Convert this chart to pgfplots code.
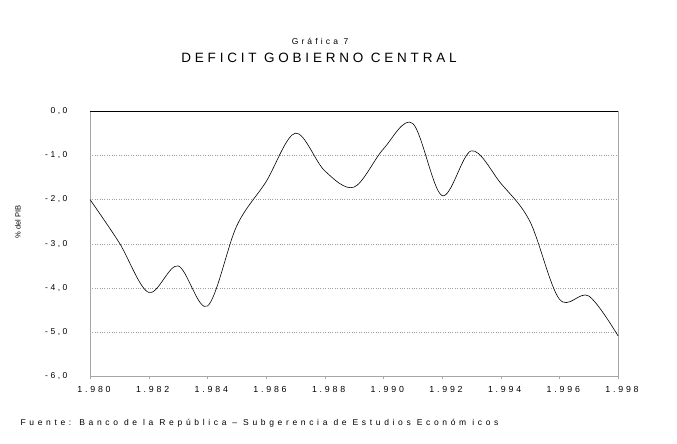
\documentclass[border=0pt]{standalone}
\usepackage{pgfplots}
\pgfplotsset{compat=1.18}
\usepackage{fontspec}
\setmainfont{Liberation Sans}
\newfontfamily\xtickfont[LetterSpace=32]{Liberation Sans}
\newfontfamily\ytickfont[LetterSpace=30]{Liberation Sans}
\newfontfamily\footfont[LetterSpace=43]{Liberation Sans}
\newfontfamily\titlefont[LetterSpace=28]{Liberation Sans}
\newfontfamily\subfont[LetterSpace=37]{Liberation Sans}
\begin{document}
\begin{tikzpicture}
\path (0pt,0pt) rectangle (677pt,444pt);
\begin{axis}[
  at={(90pt,67.5pt)}, anchor=south west,
  scale only axis, width=528pt, height=265.5pt,
  xmin=1980, xmax=1998, ymin=-6, ymax=0,
  xtick={1980,1982,...,1998},
  xticklabels={1.980,1.982,1.984,1.986,1.988,1.990,1.992,1.994,1.996,1.998},
  ytick={-6,-5,-4,-3,-2,-1,0},
  yticklabels={{-6,0},{-5,0},{-4,0},{-3,0},{-2,0},{-1,0},{0,0}},
  xticklabel style={font=\xtickfont\fontsize{8.8}{10}\selectfont, xshift=4pt, yshift=-3pt},
  yticklabel style={font=\ytickfont\fontsize{8.5}{10}\selectfont, xshift=-16pt},
  ymajorgrids, major grid style={gray!75, dotted, line width=0.5pt},
  axis line style={gray!70},
  tick style={gray!70},
  xtick pos=bottom, ytick style={draw=none},
  tick align=outside, major tick length=3pt,
  clip=false,
]
\addplot[black, line width=0.6pt, smooth, tension=0.55] coordinates {
(1980,-2.0) (1981,-2.98) (1982,-4.1) (1983,-3.5) (1984,-4.41) (1985,-2.6)
(1986,-1.6) (1987,-0.5) (1988,-1.35) (1989,-1.72) (1990,-0.86) (1991,-0.28)
(1992,-1.91) (1993,-0.9) (1994,-1.63) (1995,-2.5) (1996,-4.25) (1997,-4.18)
(1998,-5.08)
};
\draw[black, line width=0.8pt] (axis cs:1980,0) -- (axis cs:1998,0);
\end{axis}
\node[rotate=90, font=\fontsize{7.5}{8}\selectfont] at (18pt,222pt) {\% del PIB};
\node[font=\subfont\fontsize{8.5}{10}\selectfont] at (320pt,403pt) {Gráfica 7};
\node[font=\titlefont\fontsize{13.5}{15}\selectfont] at (319pt,386pt) {DEFICIT GOBIERNO CENTRAL};
\node[anchor=west, font=\footfont\fontsize{8.5}{9}\selectfont] at (17pt,21pt) {Fuente: Banco de la República – Subgerencia de Estudios Económ icos};
\end{tikzpicture}
\end{document}
